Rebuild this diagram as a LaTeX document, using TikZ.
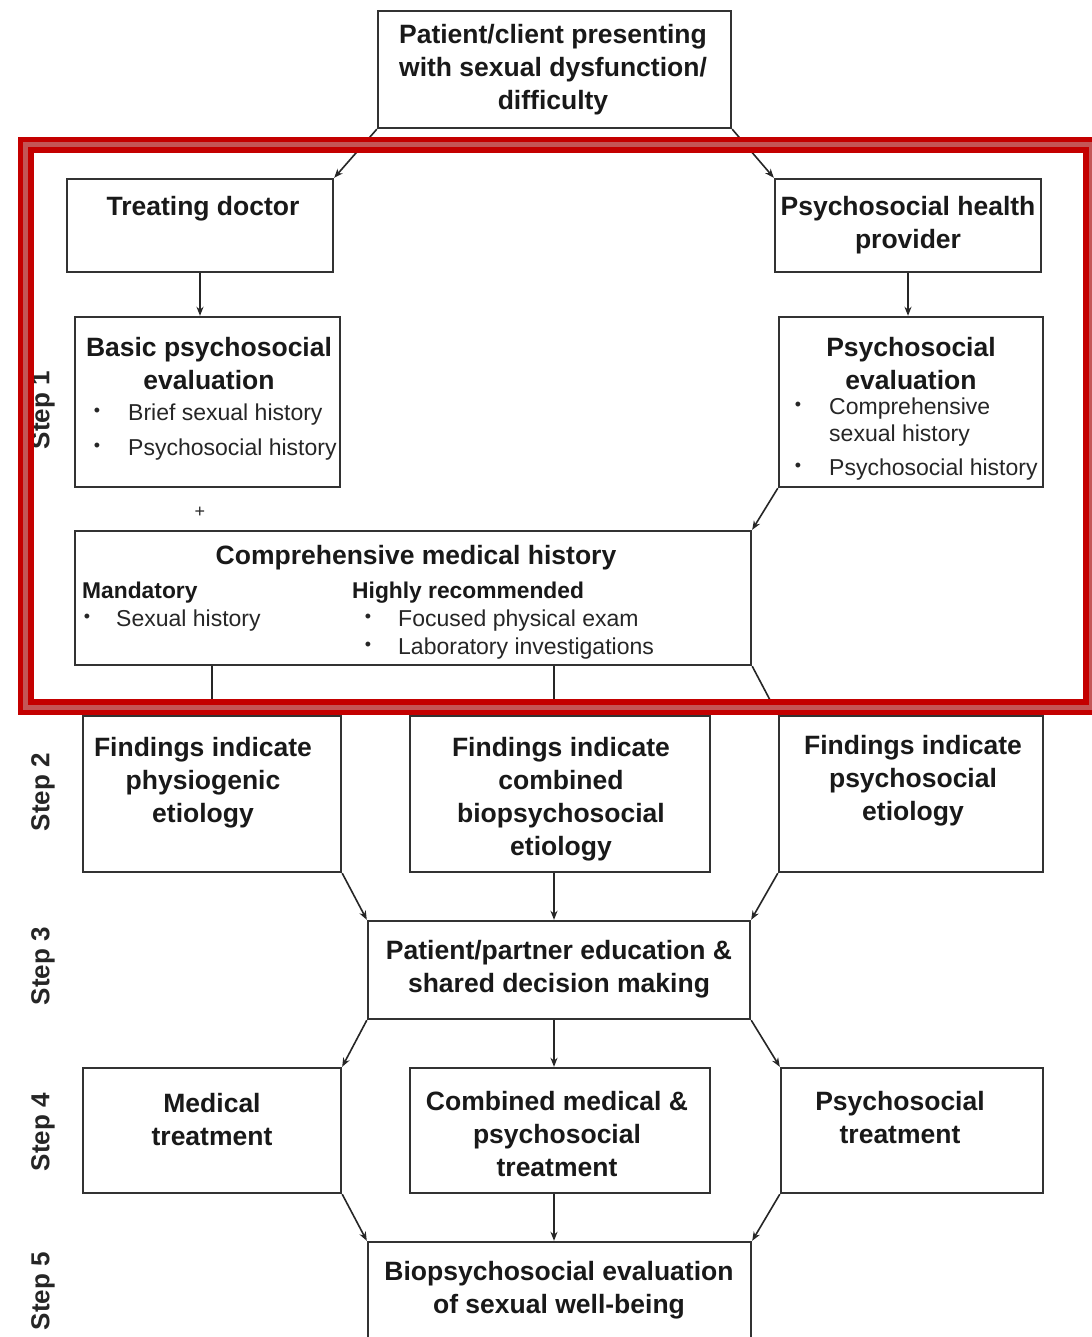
\documentclass[tikz,border=0pt]{standalone}
\usepackage{fontspec}
\setmainfont{Liberation Sans}
\usetikzlibrary{arrows.meta,calc}
\definecolor{framered}{RGB}{196,0,0}
\definecolor{framepink}{RGB}{196,86,86}
\definecolor{boxline}{RGB}{50,50,50}
\begin{document}
\begin{tikzpicture}[x=1pt,y=-1pt,
  box/.style={draw=boxline, line width=2.4pt, inner sep=0pt, fill=white},
  ttl/.style={font=\fontsize{26.5}{33}\selectfont\bfseries, align=center, inner sep=0pt, text=black!90, yshift=-3pt},
  sub/.style={font=\fontsize{22.8}{28}\selectfont\bfseries, anchor=west, inner sep=0pt, text=black!90, yshift=-3pt},
  itm/.style={font=\fontsize{23}{28}\selectfont, anchor=west, inner sep=0pt, text=black!85, yshift=-3pt},
  bul/.style={font=\fontsize{18}{20}\selectfont, inner sep=0pt, text=black!85},
  steplbl/.style={font=\fontsize{26}{30}\selectfont\bfseries, rotate=90, inner sep=0pt, text=black!85},
  arr/.style={-{Stealth[length=9pt,width=7pt]}, line width=1.6pt, draw=black!85},
  ln/.style={line width=1.6pt, draw=black!85}
]
\useasboundingbox (0,0) rectangle (1091,1337);
\fill[white] (0,0) rectangle (1091,1337);

% boxes
\node[box, minimum width=353pt, minimum height=117pt] (top) at (554.5,69.5) {};
\node[box, minimum width=266pt, minimum height=93pt] (doc) at (200,225.5) {};
\node[box, minimum width=266pt, minimum height=93pt] (php) at (908,225.5) {};
\node[box, minimum width=265pt, minimum height=170pt] (bpe) at (207.5,402) {};
\node[box, minimum width=264pt, minimum height=170pt] (pe) at (911,402) {};
\node[box, minimum width=676pt, minimum height=134pt] (cmh) at (413,598) {};
\node[box, minimum width=258pt, minimum height=156pt] (f1) at (212,794) {};
\node[box, minimum width=300pt, minimum height=156pt] (f2) at (560,794) {};
\node[box, minimum width=264pt, minimum height=156pt] (f3) at (911,794) {};
\node[box, minimum width=382pt, minimum height=98pt] (edu) at (559,970) {};
\node[box, minimum width=258pt, minimum height=125pt] (t1) at (212,1130.5) {};
\node[box, minimum width=300pt, minimum height=125pt] (t2) at (560,1130.5) {};
\node[box, minimum width=262pt, minimum height=125pt] (t3) at (912,1130.5) {};
\node[box, minimum width=383pt, minimum height=106pt] (bio) at (559.5,1295) {};

% texts
\node[ttl] (topt) at (553,67) {Patient/client presenting\\with sexual dysfunction/\\difficulty};
\node[ttl] (doct) at (203,206) {Treating doctor};
\node[ttl] (phpt) at (908,222) {Psychosocial health\\provider};
\node[ttl] (bpet) at (209,361) {Basic psychosocial\\evaluation};
\node[bul] (bpeb1) at (97,412) {•};
\node[itm] (bpei1) at (128,412) {Brief sexual history};
\node[bul] (bpeb2) at (97,447) {•};
\node[itm] (bpei2) at (128,447) {Psychosocial history};
\node[ttl] (pet) at (911,361) {Psychosocial\\evaluation};
\node[bul] (peb1) at (798,406) {•};
\node[itm] (pei1) at (829,406) {Comprehensive};
\node[itm] (pei1b) at (829,433) {sexual history};
\node[bul] (peb2) at (798,467) {•};
\node[itm] (pei2) at (829,467) {Psychosocial history};
\node[bul] (plus) at (200,512) {+};
\node[ttl] (cmht) at (416,555) {Comprehensive medical history};
\node[sub] (mand) at (82,590) {Mandatory};
\node[bul] (mandb) at (87,618) {•};
\node[itm] (mandi) at (116,618) {Sexual history};
\node[sub] (hrec) at (352,590) {Highly recommended};
\node[bul] (hrecb1) at (368,618) {•};
\node[itm] (hreci1) at (398,618) {Focused physical exam};
\node[bul] (hrecb2) at (368,646) {•};
\node[itm] (hreci2) at (398,646) {Laboratory investigations};
\node[ttl] (f1t) at (203,780) {Findings indicate\\physiogenic\\etiology};
\node[ttl] (f2t) at (561,796) {Findings indicate\\combined\\biopsychosocial\\etiology};
\node[ttl] (f3t) at (913,778) {Findings indicate\\psychosocial\\etiology};
\node[ttl] (edut) at (559,966) {Patient/partner education \&\\shared decision making};
\node[ttl] (t1t) at (212,1117) {Medical\\treatment};
\node[ttl] (t2t) at (557,1131) {Combined medical \&\\psychosocial\\treatment};
\node[ttl] (t3t) at (900,1115) {Psychosocial\\treatment};
\node[ttl] (biot) at (559,1287) {Biopsychosocial evaluation\\of sexual well-being};

% step labels
\node[steplbl] (s1) at (43,410) {Step 1};
\node[steplbl] (s2) at (43,792) {Step 2};
\node[steplbl] (s3) at (43,966) {Step 3};
\node[steplbl] (s4) at (43,1132) {Step 4};
\node[steplbl] (s5) at (43,1291) {Step 5};

% connectors
\draw[arr] (top.south west) -- (doc.north east);
\draw[arr] (top.south east) -- (php.north west);
\draw[arr] (doc.south) -- (doc.south |- bpe.north);
\draw[arr] (php.south) -- (php.south |- pe.north);
\draw[arr] (pe.south west) -- (cmh.north east);
\draw[ln] (f1.north |- cmh.south) -- (f1.north);
\draw[ln] ([xshift=-6pt]f2.north |- cmh.south) -- ([xshift=-6pt]f2.north);
\draw[ln] (cmh.south east) -- (f3.north west);
\draw[arr] (f1.south east) -- (edu.north west);
\draw[arr] ([xshift=-6pt]f2.south) -- ([xshift=-6pt]f2.south |- edu.north);
\draw[arr] (f3.south west) -- (edu.north east);
\draw[arr] (edu.south west) -- (t1.north east);
\draw[arr] ([xshift=-5pt]edu.south) -- ([xshift=-5pt]edu.south |- t2.north);
\draw[arr] (edu.south east) -- (t3.north west);
\draw[arr] (t1.south east) -- (bio.north west);
\draw[arr] ([xshift=-6pt]t2.south) -- ([xshift=-6pt]t2.south |- bio.north);
\draw[arr] (t3.south west) -- (bio.north east);

% red highlight frame
\draw[framered, line width=16pt] (25.5,145) rectangle (1091,707);
\draw[framepink, line width=5pt] (25.5,145) rectangle (1091,707);
\end{tikzpicture}
\end{document}
